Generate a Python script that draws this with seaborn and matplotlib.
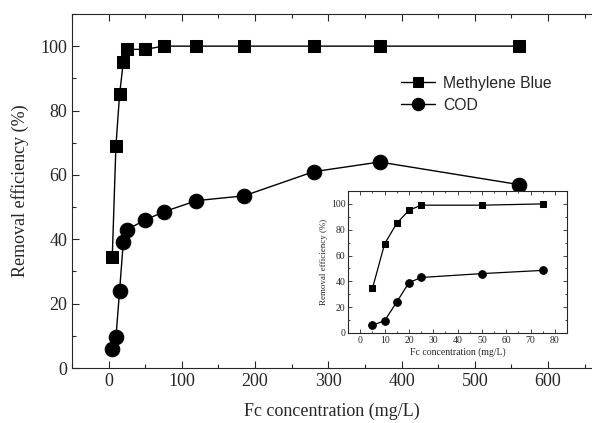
import matplotlib
matplotlib.use("Agg")
import matplotlib.pyplot as plt
import seaborn as sns
import pandas as pd
from matplotlib.ticker import MultipleLocator

# Fc concentration (mg/L) and removal efficiency (%)
conc = [5, 10, 15, 20, 25, 50, 75, 120, 185, 280, 370, 560]
mb = [34.5, 69, 85, 95, 99, 99, 100, 100, 100, 100, 100, 100]
cod = [6, 9.5, 24, 39, 43, 46, 48.5, 52, 53.5, 61, 64, 57]

# inset: low concentration range
conc_low = [5, 10, 15, 20, 25, 50, 75]
mb_low = [34.5, 69, 85, 95, 99, 99, 100]
cod_low = [6, 9.5, 24, 39, 43, 46, 48.5]

sns.set_style("ticks")
plt.rcParams['font.family'] = ['Liberation Serif', 'DejaVu Serif']
plt.rcParams['xtick.direction'] = 'in'
plt.rcParams['ytick.direction'] = 'in'

df = pd.DataFrame({"conc": conc, "mb": mb, "cod": cod})
df_low = pd.DataFrame({"conc": conc_low, "mb": mb_low, "cod": cod_low})

fig = plt.figure(figsize=(5.92, 4.23), dpi=100)
ax = fig.add_axes([0.1216, 0.130, 0.8784, 0.837])

sns.lineplot(data=df, x="conc", y="mb", ax=ax, color="black", linewidth=1,
             marker="s", markersize=9, markeredgecolor="black", label="Methylene Blue")
sns.lineplot(data=df, x="conc", y="cod", ax=ax, color="black", linewidth=1,
             marker="o", markersize=10.5, markeredgecolor="black", label="COD")

ax.set_xlim(-50, 660)
ax.set_ylim(0, 110)
ax.xaxis.set_major_locator(MultipleLocator(100))
ax.xaxis.set_minor_locator(MultipleLocator(50))
ax.yaxis.set_major_locator(MultipleLocator(20))
ax.yaxis.set_minor_locator(MultipleLocator(10))
ax.tick_params(which="both", top=True, direction="in", labelsize=13, width=0.8)
ax.tick_params(which="major", length=5)
ax.tick_params(which="minor", length=3)
ax.spines["right"].set_visible(False)
ax.set_xlabel("Fc concentration (mg/L)", fontsize=13, labelpad=9)
ax.set_ylabel("Removal efficiency (%)", fontsize=13, labelpad=8)

leg = ax.legend(loc="upper left", bbox_to_anchor=(0.605, 0.865), frameon=False,
                prop={"family": "Liberation Sans", "size": 11.3},
                handlelength=2.2, handletextpad=0.5, labelspacing=0.45,
                markerscale=0.85)

# inset
axi = fig.add_axes([0.588, 0.2128, 0.370, 0.3357])
sns.lineplot(data=df_low, x="conc", y="mb", ax=axi, color="black", linewidth=0.9,
             marker="s", markersize=5, markeredgecolor="black", legend=False)
sns.lineplot(data=df_low, x="conc", y="cod", ax=axi, color="black", linewidth=0.9,
             marker="o", markersize=5.5, markeredgecolor="black", legend=False)
axi.set_xlim(-5, 85)
axi.set_ylim(0, 110)
axi.xaxis.set_major_locator(MultipleLocator(10))
axi.xaxis.set_minor_locator(MultipleLocator(5))
axi.yaxis.set_major_locator(MultipleLocator(20))
axi.yaxis.set_minor_locator(MultipleLocator(10))
axi.tick_params(which="both", top=True, right=True, direction="in", labelsize=7, width=0.6, pad=2)
axi.tick_params(which="major", length=3)
axi.tick_params(which="minor", length=1.5)
axi.set_xlabel("Fc concentration (mg/L)", fontsize=7, labelpad=2)
axi.set_ylabel("Removal efficiency (%)", fontsize=6.5, labelpad=2)

fig.savefig("out.png", dpi=100)
